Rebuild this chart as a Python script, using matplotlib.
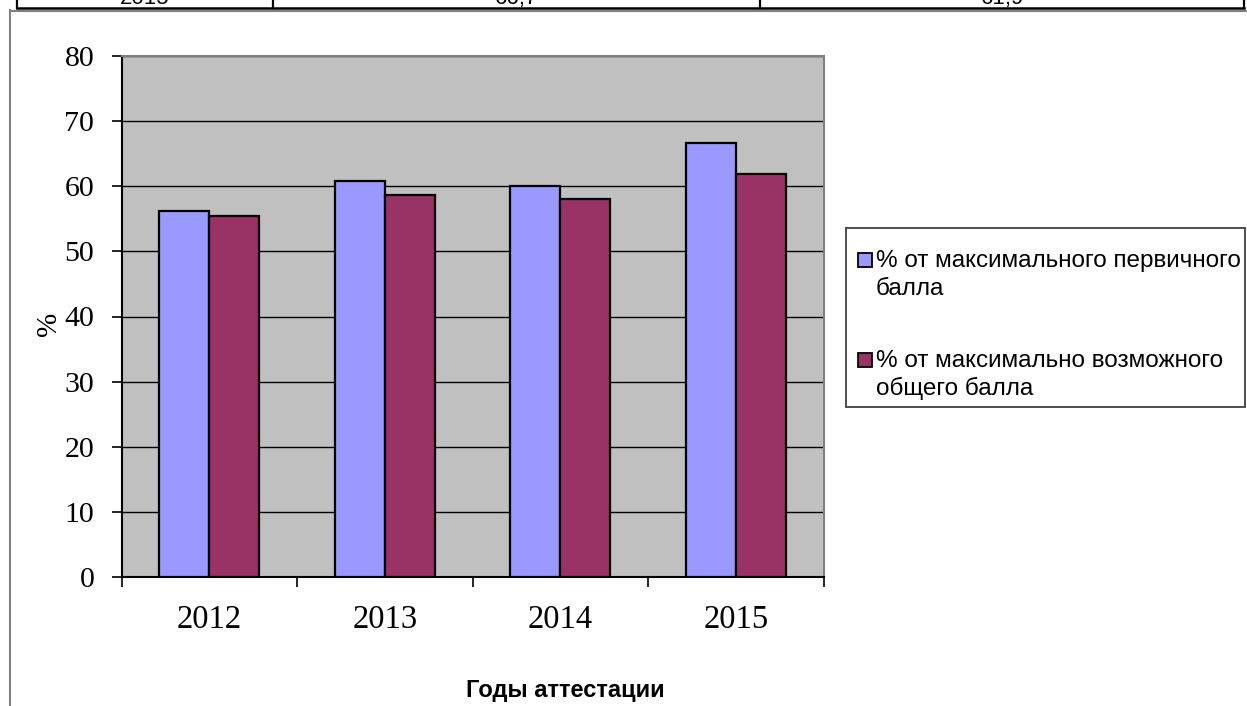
import numpy as np
import matplotlib
matplotlib.use("Agg")
import matplotlib.pyplot as plt
from matplotlib.lines import Line2D
from matplotlib.patches import Rectangle

# data
years = ["2012", "2013", "2014", "2015"]
pct_primary = [56.2, 60.8, 60.1, 66.7]
pct_total = [55.5, 58.6, 58.1, 61.9]
series_names = ["% от максимального первичного\nбалла",
                "% от максимально возможного\nобщего балла"]
series_colors = ["#9999FF", "#993366"]
table_row = ["2015", "66,7", "61,9"]

W, H = 1247, 706


def fx(px):
    return px / W


def fy(py):
    return 1 - py / H


fig = plt.figure(figsize=(W / 100, H / 100), dpi=100)

# cut-off table row above the chart (only its lower edge is in view)
for xp in [17, 273, 760, 1244]:
    fig.add_artist(Line2D([fx(xp), fx(xp)], [fy(0), fy(8)], color="black", lw=1.6))
fig.add_artist(Line2D([fx(17), fx(1244)], [fy(8.3), fy(8.3)], color="black", lw=1.8))
for txt, xc in zip(table_row, [145, 516, 1002]):
    fig.text(fx(xc), fy(4), txt, ha="center", va="baseline", fontsize=16,
             family="Liberation Sans")

# chart frame
fig.add_artist(Line2D([fx(10), fx(10)], [fy(10), fy(706)], color="#808080", lw=1.5))
fig.add_artist(Line2D([fx(10), fx(1247)], [fy(10.5), fy(10.5)], color="#808080", lw=1.5))

ax = fig.add_axes([fx(121.7), fy(577), fx(823.5) - fx(121.7), fy(56) - fy(577)])
ax.set_facecolor("#C0C0C0")

x = np.arange(len(years))
width = 0.285
ax.bar(x - width / 2, pct_primary, width, color=series_colors[0],
       edgecolor="black", linewidth=1.6, zorder=3)
ax.bar(x + width / 2, pct_total, width, color=series_colors[1],
       edgecolor="black", linewidth=1.6, zorder=3)

ax.set_xlim(-0.5, len(years) - 0.5)
ax.set_ylim(0, 80)
ax.set_yticks(range(0, 81, 10))
ax.yaxis.grid(True, color="black", linewidth=1.0)
ax.set_axisbelow(True)

ax.set_xticks(np.arange(-0.5, len(years), 1))
ax.set_xticklabels([])
ax.set_xticks(x, minor=True)
ax.set_xticklabels(years, minor=True)
ax.tick_params(axis="x", which="major", direction="out", length=7.2, width=1.2)
ax.tick_params(axis="x", which="minor", length=0, pad=20, labelsize=23.5)
ax.tick_params(axis="y", direction="out", length=7.2, width=1.2, pad=12.5, labelsize=21.5)
for lab in ax.get_xticklabels(minor=True) + ax.get_yticklabels():
    lab.set_family("Liberation Serif")

for side in ["top", "right"]:
    ax.spines[side].set_color("#808080")
    ax.spines[side].set_linewidth(1.5)
for side in ["left", "bottom"]:
    ax.spines[side].set_color("black")
    ax.spines[side].set_linewidth(1.5)

fig.text(fx(49), fy(324), "%", rotation=90, ha="center", va="center",
         fontsize=21, family="Liberation Serif")
fig.text(fx(565), fy(691), "Годы аттестации", ha="center", va="center",
         fontsize=17, fontweight="bold", family="Liberation Sans")

# legend box
fig.add_artist(Rectangle((fx(846), fy(407)), fx(1245) - fx(846), fy(228) - fy(407),
                         transform=fig.transFigure, facecolor="white",
                         edgecolor="#404040", lw=1.3))
for i, (name, col) in enumerate(zip(series_names, series_colors)):
    base = 266.7 + 100 * i
    fig.add_artist(Rectangle((fx(858), fy(base)), fx(872) - fx(858), fy(base - 13.5) - fy(base),
                             transform=fig.transFigure, facecolor=col,
                             edgecolor="black", lw=1.3))
    for j, line in enumerate(name.split("\n")):
        fig.text(fx(876), fy(base + 28.5 * j), line, ha="left", va="baseline",
                 fontsize=17.5, family="Liberation Sans")

fig.savefig("out.png", dpi=100)
